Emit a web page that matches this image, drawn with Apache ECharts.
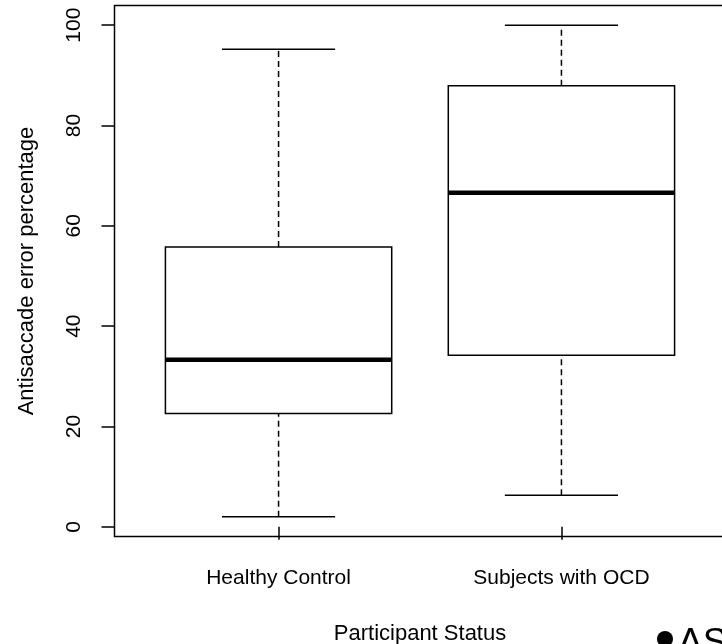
<!DOCTYPE html>
<html>
<head>
<meta charset="utf-8">
<script src="https://cdn.jsdelivr.net/npm/echarts@6/dist/echarts.min.js"></script>
<style>
html,body{margin:0;padding:0;background:#fff;}
#chart{width:722px;height:644px;}
</style>
</head>
<body>
<div id="chart"></div>
<script>
// ---- data ----
const categories = ['Healthy Control', 'Subjects with OCD'];
const whiskerLow  = [2.0, 6.3];
const q1          = [22.6, 34.2];
const median      = [33.3, 66.6];
const q3          = [55.8, 87.9];
const whiskerHigh = [95.2, 100.0];
const yTicks = [0, 20, 40, 60, 80, 100];
const xTicks = [1, 2];

// R-style axis extension (4%)
const dMin = Math.min(...whiskerLow), dMax = Math.max(...whiskerHigh);
const ySpan = dMax - dMin;
const yMin = dMin - 0.04 * ySpan, yMax = dMax + 0.04 * ySpan;
const xMin = 0.5 - 0.04 * 2, xMax = 2.5 + 0.04 * 2;

const boxData = categories.map((c, i) => [i + 1, whiskerLow[i], q1[i], median[i], q3[i], whiskerHigh[i]]);

const FONT = 'Liberation Sans';
const chart = echarts.init(document.getElementById('chart'), null, {renderer: 'canvas'});

function renderBox(params, api) {
  const x = api.value(0);
  const lo = api.coord([x, api.value(1)]);
  const b1 = api.coord([x, api.value(2)]);
  const md = api.coord([x, api.value(3)]);
  const b3 = api.coord([x, api.value(4)]);
  const hi = api.coord([x, api.value(5)]);
  const bl = api.coord([x - 0.4, api.value(2)])[0];
  const br = api.coord([x + 0.4, api.value(2)])[0];
  const cl = api.coord([x - 0.2, api.value(2)])[0];
  const cr = api.coord([x + 0.2, api.value(2)])[0];
  const cx = lo[0];
  const solid = {stroke: '#000', lineWidth: 1.5, fill: null};
  const dashed = {stroke: '#000', lineWidth: 1.5, lineDash: [6, 4], fill: null};
  return {
    type: 'group',
    children: [
      {type: 'line', shape: {x1: cx, y1: lo[1], x2: cx, y2: b1[1]}, style: dashed},
      {type: 'line', shape: {x1: cx, y1: b3[1], x2: cx, y2: hi[1]}, style: dashed},
      {type: 'line', shape: {x1: cl, y1: lo[1], x2: cr, y2: lo[1]}, style: solid},
      {type: 'line', shape: {x1: cl, y1: hi[1], x2: cr, y2: hi[1]}, style: solid},
      {type: 'rect', shape: {x: bl, y: b3[1], width: br - bl, height: b1[1] - b3[1]},
        style: {fill: '#fff', stroke: '#000', lineWidth: 1.5}},
      {type: 'line', shape: {x1: bl, y1: md[1], x2: br, y2: md[1]}, style: {stroke: '#000', lineWidth: 4.5}}
    ]
  };
}

const option = {
  backgroundColor: '#fff',
  animation: false,
  grid: {
    left: 114.5, top: 5.5, width: 611, height: 531,
    show: true, borderColor: '#000', borderWidth: 1.5, backgroundColor: 'transparent',
    containLabel: false, outerBoundsMode: 'none'
  },
  xAxis: {
    type: 'value', min: xMin, max: xMax,
    splitLine: {show: false},
    axisLine: {show: false},
    axisTick: {show: true, length: 13, customValues: xTicks, lineStyle: {color: '#000', width: 1.5}},
    axisLabel: {
      customValues: xTicks, margin: 31,
      formatter: v => categories[Math.round(v) - 1] || '',
      color: '#000', fontSize: 21, fontFamily: FONT
    },
    name: 'Participant Status', nameLocation: 'middle', nameGap: 86,
    nameTextStyle: {color: '#000', fontSize: 22, fontFamily: FONT}
  },
  yAxis: {
    type: 'value', min: yMin, max: yMax,
    splitLine: {show: false},
    axisLine: {show: false},
    axisTick: {show: true, length: 13, customValues: yTicks, lineStyle: {color: '#000', width: 1.5}},
    axisLabel: {
      customValues: yTicks, rotate: 90, margin: 30,
      align: 'center', verticalAlign: 'bottom',
      color: '#000', fontSize: 21, fontFamily: FONT
    },
    name: 'Antisaccade error percentage', nameLocation: 'middle', nameGap: 77,
    nameTextStyle: {color: '#000', fontSize: 22, fontFamily: FONT}
  },
  graphic: [
    {type: 'circle', shape: {cx: 665, cy: 639, r: 8}, style: {fill: '#000'}},
    {type: 'text', left: 678, top: 625,
      style: {text: 'AS', fontSize: 37, fontFamily: FONT, fill: '#000'}}
  ],
  series: [{
    type: 'custom',
    renderItem: renderBox,
    data: boxData,
    encode: {x: 0, y: [1, 2, 3, 4, 5]},
    clip: false
  }]
};
chart.setOption(option);
</script>
</body>
</html>
